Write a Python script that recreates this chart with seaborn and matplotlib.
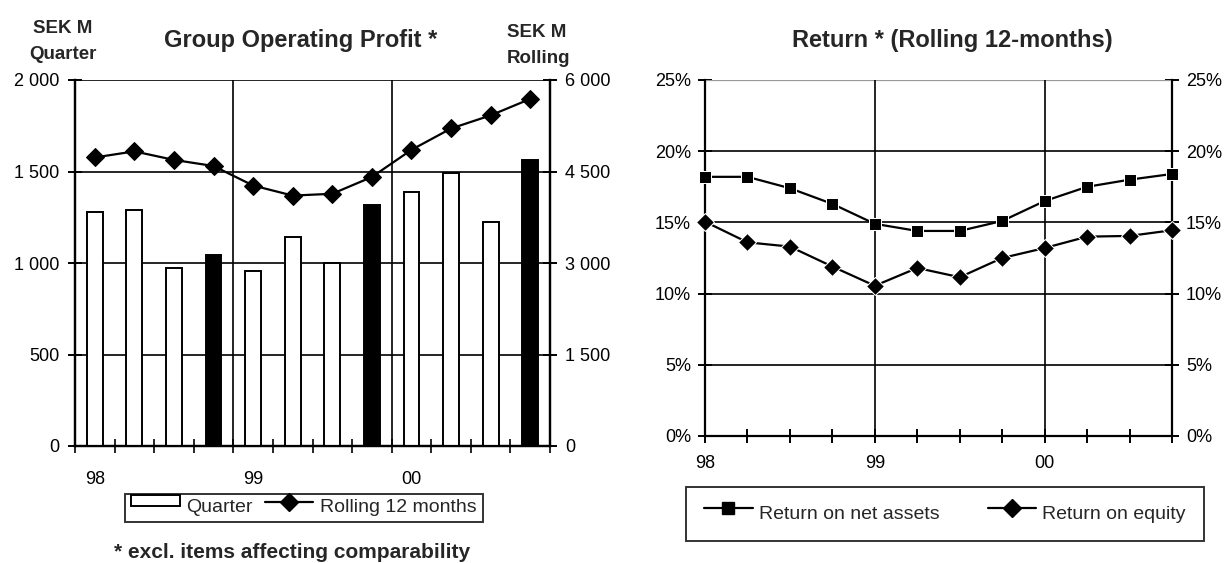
import matplotlib
matplotlib.use("Agg")
import matplotlib.pyplot as plt
import numpy as np
import pandas as pd
import seaborn as sns
from matplotlib.patches import Patch
from matplotlib.lines import Line2D
from matplotlib.legend_handler import HandlerPatch, HandlerLine2D
from matplotlib.ticker import FixedLocator, FuncFormatter

# ---- data -------------------------------------------------------------
quarters = ["98Q1", "98Q2", "98Q3", "98Q4", "99Q1", "99Q2", "99Q3", "99Q4",
            "00Q1", "00Q2", "00Q3", "00Q4"]
year_labels = ["98", "99", "00"]
year_start_idx = [0, 4, 8]

quarter_profit = [1280, 1290, 975, 1045, 955, 1140, 1000, 1315, 1390, 1490, 1225, 1565]
full_year_bar = [False, False, False, True, False, False, False, True, False, False, False, True]
rolling_profit = [4730, 4830, 4690, 4590, 4270, 4105, 4135, 4410, 4855, 5205, 5420, 5690]

return_net_assets = [18.2, 18.2, 17.4, 16.3, 14.9, 14.4, 14.4, 15.1, 16.5, 17.5, 18.0, 18.4]
return_equity = [15.05, 13.6, 13.3, 11.9, 10.55, 11.8, 11.15, 12.5, 13.2, 14.0, 14.05, 14.45]

left_ticks = [0, 500, 1000, 1500, 2000]
right_ticks = [0, 1500, 3000, 4500, 6000]
pct_ticks = [0, 5, 10, 15, 20, 25]

# ---- style ------------------------------------------------------------
sns.set_theme(style="white")
plt.rcParams["font.family"] = ["Liberation Sans", "DejaVu Sans"]
plt.rcParams["axes.linewidth"] = 1.6

TICK_FS = 13
LEG_FS = 14
TITLE_FS = 17
W, H = 1225.0, 563.0  # figure size in px, used to place header text


def fx(px):
    return px / W


def fy(px_from_top):
    return 1 - px_from_top / H


def thousands(v, _pos=None):
    return f"{int(v):,}".replace(",", " ")


class RaisedPatch(HandlerPatch):
    """Legend patch drawn a little above the text centre line."""
    def __init__(self, lift, **kw):
        super().__init__(**kw)
        self.lift = lift

    def create_artists(self, legend, orig_handle, xdescent, ydescent, width,
                       height, fontsize, trans):
        return super().create_artists(legend, orig_handle, xdescent,
                                      ydescent - self.lift, width, height,
                                      fontsize, trans)


class RaisedLine(HandlerLine2D):
    """Legend line+marker drawn a little above the text centre line."""
    def __init__(self, lift, **kw):
        super().__init__(**kw)
        self.lift = lift

    def create_artists(self, legend, orig_handle, xdescent, ydescent, width,
                       height, fontsize, trans):
        return super().create_artists(legend, orig_handle, xdescent,
                                      ydescent - 2 * self.lift, width, height,
                                      fontsize, trans)


fig = plt.figure(figsize=(12.25, 5.63), dpi=100)

# ======================= Group Operating Profit ========================
ax1 = fig.add_axes([fx(75), fy(446), fx(475), (446 - 80) / H])
df = pd.DataFrame({
    "quarter": quarters,
    "profit": quarter_profit,
    "kind": ["Q4" if f else "Quarter" for f in full_year_bar],
    "rolling": rolling_profit,
})
df["pos"] = np.arange(len(df))

sns.barplot(data=df, x="quarter", y="profit", hue="kind", dodge=False,
            palette={"Quarter": "white", "Q4": "black"}, width=0.4,
            edgecolor="black", linewidth=1.4, legend=False, ax=ax1, zorder=3)
ax1.set_xlim(-0.5, len(quarters) - 0.5)
ax1.set_ylim(0, 2000)
ax1.yaxis.set_major_locator(FixedLocator(left_ticks))
ax1.yaxis.set_major_formatter(FuncFormatter(thousands))
ax1.set_xlabel("")
ax1.set_ylabel("")

# horizontal + year gridlines sit behind the bars
for v in left_ticks[1:]:
    ax1.axhline(v, color="black", lw=1.2, zorder=1)
for i in year_start_idx[1:]:
    ax1.axvline(i - 0.5, color="black", lw=1.2, zorder=1)

ax1.set_xticks(year_start_idx)
ax1.set_xticklabels(year_labels)
ax1.xaxis.set_minor_locator(FixedLocator(np.arange(-0.5, len(quarters), 1.0)))
ax1.tick_params(axis="x", which="major", length=0, pad=18, labelsize=TICK_FS, colors="black")
ax1.tick_params(axis="x", which="minor", direction="inout", length=10, width=1.4, bottom=True)
ax1.tick_params(axis="y", direction="inout", length=10, width=1.4, left=True,
                labelsize=TICK_FS, colors="black", pad=6)
ax1.spines["top"].set_visible(False)
for s in ["left", "right", "bottom"]:
    ax1.spines[s].set_color("black")

ax2 = ax1.twinx()
sns.lineplot(data=df, x="pos", y="rolling", marker="D", markersize=9.5,
             color="black", lw=1.6, markeredgecolor="black", ax=ax2, zorder=5)
ax2.set_ylim(0, 6000)
ax2.set_xlim(-0.5, len(quarters) - 0.5)
ax2.yaxis.set_major_locator(FixedLocator(right_ticks))
ax2.yaxis.set_major_formatter(FuncFormatter(thousands))
ax2.tick_params(axis="y", direction="inout", length=10, width=1.4, right=True,
                labelsize=TICK_FS, colors="black", pad=6)
ax2.set_ylabel("")
ax2.set_xlabel("")
ax2.spines["top"].set_visible(False)
for s in ["left", "right", "bottom"]:
    ax2.spines[s].set_color("black")

fig.text(fx(301), fy(47.5), "Group Operating Profit *", ha="center",
         va="baseline", fontsize=TITLE_FS, fontweight="bold")
fig.text(fx(62.5), fy(33), "SEK M", ha="center", va="baseline",
         fontsize=13.5, fontweight="bold")
fig.text(fx(62.5), fy(59), "Quarter", ha="center", va="baseline",
         fontsize=13.5, fontweight="bold")
fig.text(fx(507), fy(37), "SEK M", ha="left", va="baseline",
         fontsize=13.5, fontweight="bold")
fig.text(fx(507), fy(63), "Rolling", ha="left", va="baseline",
         fontsize=13.5, fontweight="bold")

quarter_handle = Patch(facecolor="white", edgecolor="black", linewidth=1.4)
rolling_handle = Line2D([], [], color="black", lw=1.6, marker="D", markersize=9)
leg1 = fig.legend([quarter_handle, rolling_handle], ["Quarter", "Rolling 12 months"],
                  ncol=2, loc="center", bbox_to_anchor=(fx(304), fy(508)),
                  frameon=True, fancybox=False, edgecolor="black", fontsize=LEG_FS,
                  handlelength=2.5, handleheight=0.45, handletextpad=0.35,
                  columnspacing=0.6, borderpad=0.3, borderaxespad=0,
                  handler_map={Patch: RaisedPatch(3.5), Line2D: RaisedLine(3.5)})
leg1.get_frame().set_linewidth(1.4)

fig.text(fx(292), fy(558), "* excl. items affecting comparability", ha="center",
         va="baseline", fontsize=15, fontweight="bold")

# ======================= Return (Rolling 12 months) ====================
ax3 = fig.add_axes([fx(705), fy(436), fx(467), (436 - 80) / H])
rdf = pd.DataFrame({
    "pos": np.arange(len(quarters)),
    "Return on net assets": return_net_assets,
    "Return on equity": return_equity,
})
sns.lineplot(data=rdf, x="pos", y="Return on net assets", marker="s", markersize=9,
             color="black", lw=1.6, ax=ax3, zorder=5, clip_on=False)
sns.lineplot(data=rdf, x="pos", y="Return on equity", marker="D", markersize=9.5,
             color="black", lw=1.6, ax=ax3, zorder=5, clip_on=False)
ax3.set_xlim(0, len(quarters) - 1)
ax3.set_ylim(0, 25)
ax3.set_xlabel("")
ax3.set_ylabel("")
for v in pct_ticks[1:-1]:
    ax3.axhline(v, color="black", lw=1.2, zorder=1)
ax3.axhline(25, color="#999999", lw=1.6, zorder=1)
for i in year_start_idx[1:]:
    ax3.axvline(i, color="black", lw=1.2, zorder=1)

ax3.yaxis.set_major_locator(FixedLocator(pct_ticks))
ax3.yaxis.set_major_formatter(FuncFormatter(lambda v, p: f"{int(v)}%"))
ax3.xaxis.set_major_locator(FixedLocator(list(range(len(quarters)))))
ax3.set_xticklabels([year_labels[year_start_idx.index(i)] if i in year_start_idx else ""
                     for i in range(len(quarters))])
ax3.tick_params(axis="x", direction="inout", length=10, width=1.4, bottom=True,
                pad=9, labelsize=TICK_FS, colors="black")
ax3.tick_params(axis="y", direction="inout", length=10, width=1.4, left=True,
                right=True, labelright=True, labelsize=TICK_FS, colors="black", pad=5)
ax3.spines["top"].set_visible(False)
for s in ["left", "right", "bottom"]:
    ax3.spines[s].set_color("black")

fig.text(fx(952), fy(47.5), "Return * (Rolling 12-months)", ha="center",
         va="baseline", fontsize=TITLE_FS, fontweight="bold")

rna_handle = Line2D([], [], color="black", lw=1.6, marker="s", markersize=8)
roe_handle = Line2D([], [], color="black", lw=1.6, marker="D", markersize=9)
leg2 = fig.legend([rna_handle, roe_handle], ["Return on net assets", "Return on equity"],
                  ncol=2, loc="center", bbox_to_anchor=(fx(945), fy(514)),
                  frameon=True, fancybox=False, edgecolor="black", fontsize=LEG_FS,
                  handlelength=2.5, handletextpad=0.3, columnspacing=2.5,
                  borderpad=0.95, borderaxespad=0,
                  handler_map={Line2D: RaisedLine(3)})
leg2.get_frame().set_linewidth(1.4)

fig.savefig("out.png", dpi=100)
